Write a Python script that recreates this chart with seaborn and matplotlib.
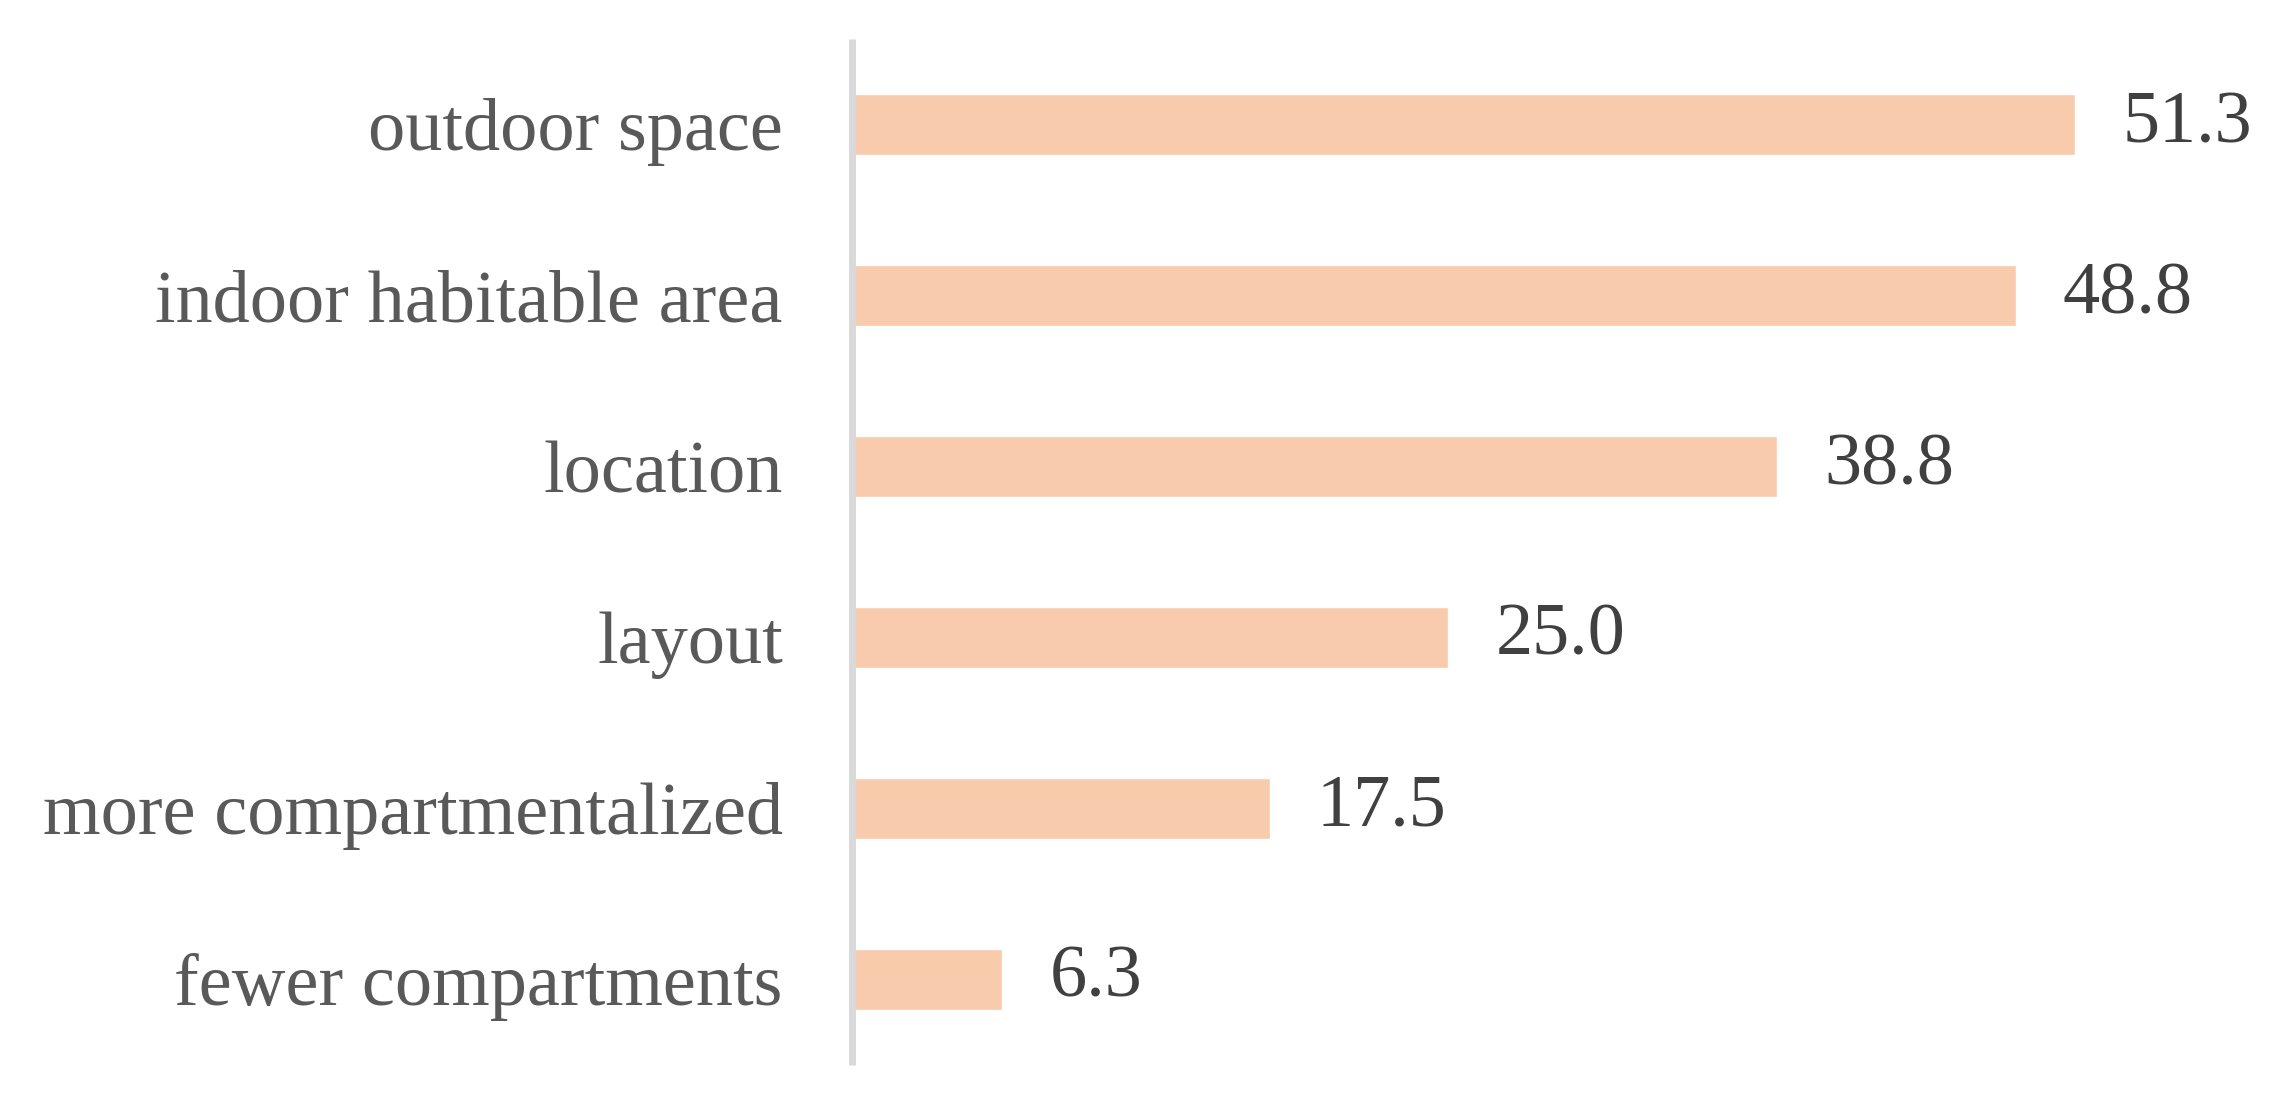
import matplotlib
matplotlib.use("Agg")
import matplotlib.pyplot as plt
import pandas as pd
import seaborn as sb

categories = ["outdoor space", "indoor habitable area", "location", "layout",
              "more compartmentalized", "fewer compartments"]
values = [51.3, 48.8, 38.8, 25.0, 17.5, 6.3]

sb.set_style("white")
plt.rcParams["font.family"] = ["Liberation Serif", "DejaVu Serif"]

df = pd.DataFrame({"category": categories, "value": values})

fig = plt.figure(figsize=(22.85, 10.96), dpi=100)
ax = fig.add_axes([0.373, 0.0287, 0.626, 0.9357])

sb.barplot(data=df, x="value", y="category", orient="h", color="#F8CBAD",
           saturation=1, width=0.357, ax=ax)

ax.set_xlim(0, 60)
ax.set_ylim(5.5, -0.5)
ax.set_xlabel("")
ax.set_ylabel("")
ax.set_xticks([])

for s in ["top", "right", "bottom"]:
    ax.spines[s].set_visible(False)
ax.spines["left"].set_color("#D9D9D9")
ax.spines["left"].set_linewidth(5)
ax.spines["left"].set_capstyle("butt")

ax.tick_params(axis="y", length=0, pad=50, labelsize=53.5, labelcolor="#595959")
for t in ax.get_yticklabels():
    t.set_y(t.get_position()[1])

# value labels at the end of each bar
ax.bar_label(ax.containers[0], labels=["%.1f" % v for v in values],
             padding=34, fontsize=53.5, color="#404040")

fig.savefig("out.png", dpi=100)
